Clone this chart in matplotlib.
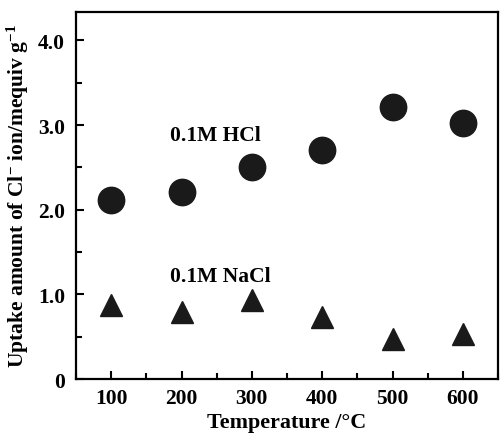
import matplotlib
matplotlib.use("Agg")
import matplotlib.pyplot as plt
from matplotlib.ticker import MultipleLocator

# temperatures of the heat treatment
temps = [100, 200, 300, 400, 500, 600]
# uptake of Cl- from 0.1M HCl and 0.1M NaCl (mequiv/g)
hcl_uptake = [2.11, 2.21, 2.50, 2.71, 3.21, 3.03]
nacl_uptake = [0.88, 0.79, 0.93, 0.73, 0.48, 0.53]

xticks = [100, 200, 300, 400, 500, 600]
yticks = [0, 1.0, 2.0, 3.0, 4.0]
ytick_labels = ['0', '1.0', '2.0', '3.0', '4.0']

plt.rcParams['font.family'] = 'Liberation Serif'
plt.rcParams['font.weight'] = 'bold'
plt.rcParams['mathtext.fontset'] = 'custom'
plt.rcParams['mathtext.rm'] = 'Liberation Serif:bold'
plt.rcParams['mathtext.it'] = 'Liberation Serif:bold'
plt.rcParams['mathtext.bf'] = 'Liberation Serif:bold'

fig = plt.figure(figsize=(5.0, 4.35), dpi=100)
ax = fig.add_axes([0.152, 0.126, 0.844, 0.845])

ax.plot(temps, hcl_uptake, 'o', color='#1a1a1a', markersize=19, linestyle='none')
ax.plot(temps, nacl_uptake, '^', color='#1a1a1a', markersize=16, linestyle='none')

# series labels inside the plot
ax.text(183, 2.88, '0.1M HCl', fontsize=15.5, fontweight='bold', va='center')
ax.text(184, 1.22, '0.1M NaCl', fontsize=15.5, fontweight='bold', va='center')

ax.set_xlim(50, 650)
ax.set_ylim(0, 4.34)
ax.set_xticks(xticks)
ax.set_yticks(yticks)
ax.set_yticklabels(ytick_labels)
ax.xaxis.set_minor_locator(MultipleLocator(50))
ax.yaxis.set_minor_locator(MultipleLocator(0.5))

ax.tick_params(which='both', direction='in', width=1.5, labelsize=15.5, pad=6)
ax.tick_params(which='major', length=6)
ax.tick_params(which='minor', length=4)
ax.tick_params(axis='y', pad=8)
for s in ax.spines.values():
    s.set_linewidth(1.6)

ax.set_xlabel('Temperature /°C', fontsize=15.8, fontweight='bold', labelpad=3)
ax.set_ylabel(r'Uptake amount of Cl$^{-}$ ion/mequiv g$^{-1}$', fontsize=15.5,
              fontweight='bold', labelpad=5)

fig.savefig('out.png', dpi=100)
